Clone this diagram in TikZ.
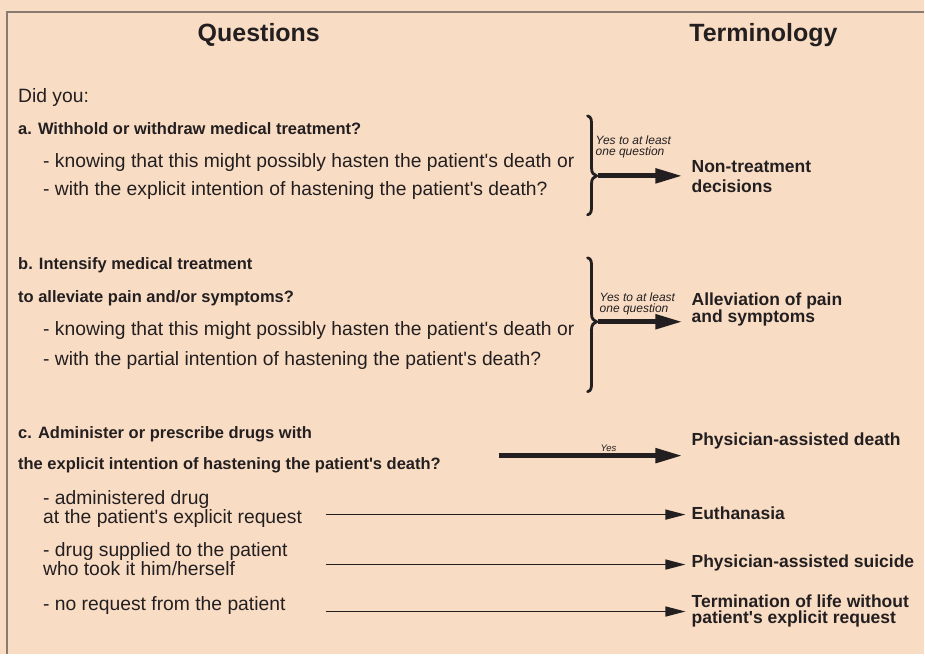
\documentclass[tikz,border=0pt]{standalone}
\usepackage{fontspec}
\setmainfont{Liberation Sans}[Ligatures=TeXOff]
\usepackage{tikz}
\usetikzlibrary{arrows.meta, positioning}
\usepackage{xcolor}

\definecolor{paper}{HTML}{F9DCC4}
\definecolor{frameline}{HTML}{8A7B72}
\definecolor{ink}{HTML}{231F20}

\begin{document}
\begin{tikzpicture}[
    x=1pt, y=-1pt,
    every node/.style={inner sep=0pt, anchor=west, text=ink, align=left},
    heading/.style={anchor=center, font=\fontsize{25}{28}\selectfont\bfseries},
    question/.style={font=\fontsize{16.5}{19}\selectfont\bfseries},
    plain/.style={font=\fontsize{19.3}{17.5}\selectfont},
    termbox/.style={font=\fontsize{17.5}{16}\selectfont\bfseries},
    hint/.style={font=\fontsize{12}{11}\selectfont\itshape},
    fat/.style={draw=ink, line width=5pt, -{Triangle[length=27pt, width=14pt]}, shorten >=9pt},
    slim/.style={draw=ink, line width=1.4pt, -{Triangle[length=20pt, width=10pt]}, shorten >=6pt},
    bracket/.style={draw=ink, line width=2.8pt, line cap=round}
]

% paper and frame
\fill[paper] (0,0) rectangle (925,655);
\draw[frameline, line width=1.5pt] (925,12) -- (7,12) -- (7,655);

\node[heading] (questions) at (259,35) {Questions};
\node[heading] (terminology) at (764,35) {Terminology};

% questions column
\node[plain] (didyou) at (18,98) {Did you:};
\node[question] (qa) at (18,129) {a. Withhold or withdraw medical treatment?};
\node[plain] (qa1) at (43,163) {- knowing that this might possibly hasten the patient's death or};
\node[plain] (qa2) at (43,191) {- with the explicit intention of hastening the patient's death?};

\node[question] (qb) at (18,265) {b. Intensify medical treatment};
\node[question] (qb0) at (18,298) {to alleviate pain and/or symptoms?};
\node[plain] (qb1) at (43,331) {- knowing that this might possibly hasten the patient's death or};
\node[plain] (qb2) at (43,361) {- with the partial intention of hastening the patient's death?};

\node[question] (qc) at (18,435) {c. Administer or prescribe drugs with};
\node[question] (qc0) at (18,466) {the explicit intention of hastening the patient's death?};
\node[plain] (qc1) at (43,509) {- administered drug\\at the patient's explicit request};
\node[plain] (qc2) at (43,560) {- drug supplied to the patient\\who took it him/herself};
\node[plain] (qc3) at (43,606) {- no request from the patient};

% terminology column
\node[termbox] (nontreat) at (692,177) {Non-treatment\\[4pt]decisions};
\node[termbox] (allev) at (692,310) {Alleviation of pain\\and symptoms};
\node[termbox] (pad) at (692,441) {Physician-assisted death};
\node[termbox] (euth) at (692,514) {Euthanasia};
\node[termbox] (pas) at (692,563) {Physician-assisted suicide};
\node[termbox] (notreq) at (692,611) {Termination of life without\\patient's explicit request};

% braces
\draw[bracket] (588,116) .. controls (592,117) and (592,120) .. (592,126) -- (592,168)
    .. controls (592,173) and (594,175) .. (597,176) .. controls (594,177) and (592,179) .. (592,184)
    -- (592,205) .. controls (592,211) and (592,214) .. (588,215);
\draw[bracket] (588,258) .. controls (592,259) and (592,262) .. (592,268) -- (592,314)
    .. controls (592,319) and (594,321) .. (597,322) .. controls (594,323) and (592,325) .. (592,330)
    -- (592,382) .. controls (592,388) and (592,391) .. (588,392);

\node[hint] (hinta) at (596,147) {Yes to at least\\one question};
\node[hint] (hintb) at (600,304) {Yes to at least\\one question};

\coordinate (tipa) at (598,176);
\coordinate (tipb) at (598,322);
\coordinate (yesfrom) at (499,456);
\coordinate (froma) at (326,515);
\coordinate (fromb) at (326,565);
\coordinate (fromc) at (326,612);

\draw[fat] (tipa) -- (tipa -| nontreat.west);
\draw[fat] (tipb) -- (tipb -| allev.west);
\draw[fat] (yesfrom) -- node[pos=0.57, above=2pt, font=\fontsize{9.5}{10}\selectfont\itshape] (yes) {Yes} (yesfrom -| pad.west);

\draw[slim] (froma) -- (froma -| euth.west);
\draw[slim] (fromb) -- (fromb -| pas.west);
\draw[slim] (fromc) -- (fromc -| notreq.west);

\end{tikzpicture}
\end{document}
